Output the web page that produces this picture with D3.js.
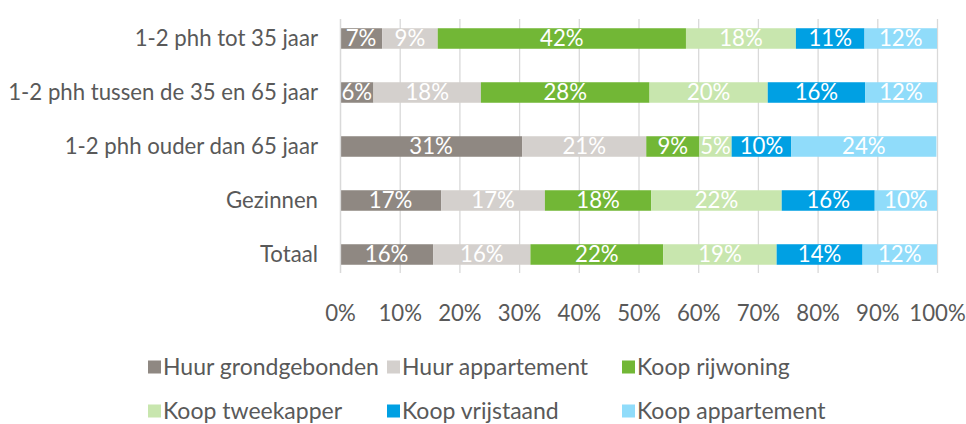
<!DOCTYPE html>
<html><head><meta charset="utf-8">
<script src="https://cdn.jsdelivr.net/npm/d3@7"></script>
<style>body{margin:0;background:#fff}svg{display:block}text{font-family:Lato,"Open Sans",sans-serif}</style>
</head><body><svg id="c" width="966" height="424"></svg>
<script>
const categories = ["1-2 phh tot 35 jaar","1-2 phh tussen de 35 en 65 jaar","1-2 phh ouder dan 65 jaar","Gezinnen","Totaal"];
const seriesNames = ["Huur grondgebonden","Huur appartement","Koop rijwoning","Koop tweekapper","Koop vrijstaand","Koop appartement"];
const seriesColors = ["#8f8882","#d4d0cd","#72b736","#c8e6ae","#00a0e3","#90dcfa"];
const huurGrond = [7.06, 5.6, 30.5, 16.96, 15.6];
const huurApp   = [9.31, 18.0, 20.8, 17.36, 16.3];
const koopRij   = [41.58, 28.25, 8.9, 17.82, 22.24];
const koopTwee  = [18.42, 19.8, 5.4, 21.85, 19.0];
const koopVrij  = [11.49, 16.3, 10.0, 15.58, 14.39];
const koopApp   = [12.15, 12.08, 24.3, 10.43, 12.48];
const tickValues = [0,10,20,30,40,50,60,70,80,90,100];

const series = [huurGrond, huurApp, koopRij, koopTwee, koopVrij, koopApp];
const svg = d3.select("#c");
const x = d3.scaleLinear().domain([0,100]).range([340,937]);
const y = d3.scaleBand().domain(categories).range([11.5, 281.5]).paddingInner(0.62).paddingOuter(0.31);
const txt = "#595959";
const fs = 22.2;
const lfs = 23;

// gridlines
svg.append("g").selectAll("line").data(tickValues).join("line")
  .attr("x1", d=>x(d)+0.5).attr("x2", d=>x(d)+0.5)
  .attr("y1", 19).attr("y2", 273)
  .attr("stroke", "#d9d9d9").attr("stroke-width", 1.3);

// stacked bars
const rows = categories.map((c,i)=>{
  let cum = 0;
  return series.map((s,j)=>{ const v=s[i]; const o={cat:c, j, x0:cum, x1:cum+v, v}; cum+=v; return o; });
});
const segs = rows.flat();
svg.append("g").selectAll("rect").data(segs).join("rect")
  .attr("x", d=>x(d.x0)).attr("width", d=>x(Math.min(100,d.x1))-x(d.x0))
  .attr("y", d=>y(d.cat)).attr("height", y.bandwidth())
  .attr("fill", d=>seriesColors[d.j]);
svg.append("g").selectAll("text").data(segs).join("text")
  .attr("x", d=>(x(d.x0)+x(Math.min(100,d.x1)))/2).attr("y", d=>y(d.cat)+y.bandwidth()/2)
  .attr("dy","0.36em").attr("text-anchor","middle")
  .attr("fill","#fff").attr("font-size", fs)
  .text(d=>Math.round(d.v)+"%");

// category axis line
svg.append("line").attr("x1",340.5).attr("x2",340.5).attr("y1",19).attr("y2",273).attr("stroke","#d9d9d9").attr("stroke-width",1.3);

// category labels
svg.append("g").selectAll("text").data(categories).join("text")
  .attr("x", 318).attr("y", d=>y(d)+y.bandwidth()/2).attr("dy","0.36em")
  .attr("text-anchor","end").attr("fill",txt).attr("font-size",fs).text(d=>d);

// x axis
const xAxis = d3.axisBottom(x).tickValues(tickValues).tickFormat(d=>d+"%").tickSize(0).tickPadding(0);
const gx = svg.append("g").attr("transform","translate(0,305)").call(xAxis);
gx.select(".domain").remove();
gx.selectAll("text").attr("fill",txt).attr("font-size",fs).attr("font-family",null).attr("dy","0.71em");

// legend
const legX = [148, 387, 622];
const legY = [367, 411];
const leg = svg.append("g").selectAll("g").data(seriesNames).join("g")
  .attr("transform",(d,i)=>`translate(${legX[i%3]},${legY[Math.floor(i/3)]})`);
leg.append("rect").attr("x",0).attr("y",-6.5).attr("width",13).attr("height",13).attr("fill",(d,i)=>seriesColors[i]);
leg.append("text").attr("x",15).attr("y",0).attr("dy","0.36em").attr("fill",txt).attr("font-size",lfs).text(d=>d);
</script></body></html>
